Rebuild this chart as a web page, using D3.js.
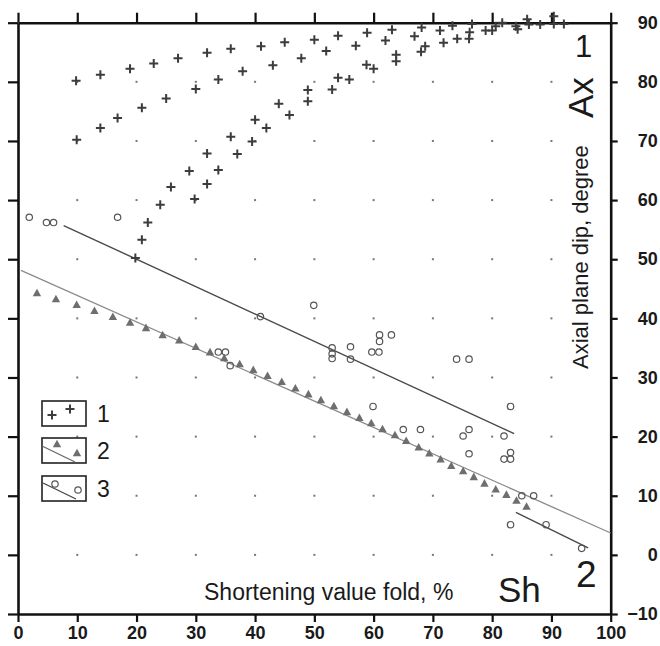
<!DOCTYPE html>
<html>
<head>
<meta charset="utf-8">
<script src="https://cdn.jsdelivr.net/npm/d3@7"></script>
<style>
  body { margin: 0; background: #fff; }
  text { font-family: "Liberation Sans", Arial, sans-serif; fill: #1a1a1a; }
</style>
</head>
<body>
<div id="chart"></div>
<script>
// series 1: crosses (x = shortening %, y = axial plane dip)
const crossX = [9.8,13.9,18.9,22.9,27.0,31.9,35.9,41.0,45.0,50.0,54.0,58.9,63.1,
  9.9,13.9,16.8,20.9,25.0,30.0,33.8,37.9,43.0,47.8,52.0,57.0,62.0,
  19.8,20.9,21.9,24.0,25.8,28.9,31.9,35.9,40.0,44.0,48.9,54.0,58.8,63.8,
  29.8,31.9,33.8,37.0,39.5,41.9,45.8,48.9,53.0,55.9,60.0,63.8,
  68.1,66.9,68.7,68.0,73.3,71.2,71.8,74.1,76.1,76.6,76.2,78.9,80.0,80.6,81.7,
  84.0,84.3,85.9,86.2,88.1,90.4,90.4,92.1]
const crossY = [80.2,81.2,82.2,83.1,84.0,84.9,85.6,86.0,86.7,87.1,87.8,88.3,88.8,
  70.2,72.2,73.9,75.6,77.2,78.8,80.4,81.8,82.8,84.0,85.2,86.1,87.0,
  50.2,53.3,56.2,59.2,62.2,64.9,67.9,70.7,73.6,76.3,78.6,80.7,82.9,84.6,
  60.2,62.7,65.1,67.8,69.9,72.2,74.4,76.7,78.7,80.4,82.2,83.5,
  89.2,87.7,86.0,85.1,89.5,88.7,86.6,87.3,87.3,89.8,88.4,88.7,88.7,89.4,90.0,
  89.4,88.9,90.6,89.7,89.7,91.1,89.8,89.8]

// series 2: triangles
const triX = [3.2,6.4,9.9,12.9,16.0,18.9,21.6,24.4,27.2,30.0,32.4,34.8,37.4,39.7,42.1,44.5,46.8,49.0,51.1,
  53.3,55.5,57.6,59.6,61.5,63.6,65.5,67.6,69.4,71.3,73.1,75.1,76.9,78.7,80.6,82.4,84.1,85.8]
const triY = [44.3,43.3,42.3,41.3,40.3,39.3,38.4,37.2,36.3,35.2,34.3,33.3,32.3,31.3,30.3,29.3,28.2,27.2,26.2,
  25.2,24.2,23.2,22.3,21.3,20.3,19.3,18.2,17.2,16.2,15.1,14.2,13.2,12.1,11.1,10.2,9.2,8.2]

// series 3: circles
const circX = [1.9,4.8,6.0,16.8,40.9,49.9,33.8,35.0,35.8,53.0,53.0,53.0,56.1,56.1,59.7,60.9,61.0,61.0,63.0,
  74.0,76.1,59.9,65.0,67.9,75.1,76.1,76.1,82.0,83.1,83.1,82.0,83.1,85.0,87.0,83.1,89.1,95.1]
const circY = [57.1,56.2,56.2,57.1,40.3,42.2,34.3,34.3,32.0,35.0,34.0,33.2,35.2,33.1,34.3,34.3,37.2,36.1,37.2,
  33.1,33.1,25.1,21.2,21.2,20.1,21.2,17.1,20.1,25.1,17.3,16.2,16.2,10.0,10.0,5.1,5.1,1.1]

// trend lines [x0, y0, x1, y1]
const lineTri = [0.5, 48.1, 100, 3.7]
const lineCirc = [7.7, 55.7, 83.7, 20.5]
const lineCircShort = [84.0, 7.2, 96.2, 1.2]

const xTicks = [0,10,20,30,40,50,60,70,80,90,100]
const yTicks = [-10,0,10,20,30,40,50,60,70,80,90]
const legendLabels = ["1","2","3"]

const width = 660, height = 646

const svg = d3.select("#chart").append("svg")
  .attr("width", width)
  .attr("height", height)

const x = d3.scaleLinear().domain([0, 100]).range([18, 610.7])
const y = d3.scaleLinear().domain([-10, 90]).range([614, 22.7])

// grid dots
const dots = []
xTicks.slice(1, -1).forEach(a => yTicks.slice(1, -1).forEach(b => dots.push([a, b])))
svg.append("g").selectAll("rect")
  .data(dots)
  .join("rect")
  .attr("x", d => x(d[0]) - 1)
  .attr("y", d => y(d[1]) - 1)
  .attr("width", 2).attr("height", 2)
  .attr("fill", "#777")

// axes
const axStyle = g => {
  g.select(".domain").attr("stroke", "#111").attr("stroke-width", 2.6)
  g.selectAll(".tick line").attr("stroke", "#111").attr("stroke-width", 2.2)
}
svg.append("g").attr("transform", `translate(0,${y(-10)})`)
  .call(d3.axisBottom(x).tickValues(xTicks).tickSize(8).tickPadding(4).tickSizeOuter(0))
  .call(axStyle)
  .call(g => g.selectAll("text").attr("font-size", 18).attr("font-weight", "bold")
    .attr("font-family", "Liberation Sans, Arial").attr("fill", "#1a1a1a"))
svg.append("g").attr("transform", `translate(0,${y(90)})`)
  .call(d3.axisTop(x).tickValues(xTicks).tickSize(10).tickFormat("").tickSizeOuter(0))
  .call(axStyle)
svg.append("g").attr("transform", `translate(${x(0)},0)`)
  .call(d3.axisLeft(y).tickValues(yTicks).tickSize(10).tickFormat("").tickSizeOuter(0))
  .call(axStyle)
svg.append("g").attr("transform", `translate(${x(100)},0)`)
  .call(d3.axisRight(y).tickValues(yTicks).tickSize(7).tickSizeOuter(0).tickFormat(d => d < 0 ? "\u2212" + Math.abs(d) : d))
  .call(axStyle)
  .call(g => g.selectAll("text").attr("font-size", 18).attr("font-weight", "bold")
    .attr("font-family", "Liberation Sans, Arial").attr("fill", "#1a1a1a")
    .attr("text-anchor", "end").attr("x", 47))

// trend lines
const plotLine = (l, color, w) => svg.append("line")
  .attr("x1", x(l[0])).attr("y1", y(l[1]))
  .attr("x2", x(l[2])).attr("y2", y(l[3]))
  .attr("stroke", color).attr("stroke-width", w)
plotLine(lineTri, "#8a8a8a", 1.3)
plotLine(lineCirc, "#4a4a4a", 1.4)
plotLine(lineCircShort, "#4a4a4a", 1.4)

// symbol helpers
const crossPath = (cx, cy, s) => `M${cx - s},${cy}H${cx + s}M${cx},${cy - s}V${cy + s}`
const triPath = (cx, cy, s) => `M${cx},${cy - s}L${cx + s},${cy + s * 0.8}L${cx - s},${cy + s * 0.8}Z`

svg.append("g").selectAll("path")
  .data(triX.map((v, i) => [v, triY[i]]))
  .join("path")
  .attr("d", d => triPath(x(d[0]), y(d[1]), 4.2))
  .attr("fill", "#6e6e6e")

svg.append("g").selectAll("circle")
  .data(circX.map((v, i) => [v, circY[i]]))
  .join("circle")
  .attr("cx", d => x(d[0])).attr("cy", d => y(d[1]))
  .attr("r", 3.2)
  .attr("fill", "none").attr("stroke", "#555").attr("stroke-width", 1.2)

svg.append("g").selectAll("path")
  .data(crossX.map((v, i) => [v, crossY[i]]))
  .join("path")
  .attr("d", d => crossPath(x(d[0]), y(d[1]), 4.5))
  .attr("stroke", "#3c3c3c").attr("stroke-width", 2)

// legend
const legTop = [401, 438, 476]
const leg = svg.append("g")
legTop.forEach((t, i) => {
  leg.append("rect").attr("x", 42).attr("y", t).attr("width", 44).attr("height", 25)
    .attr("fill", "white").attr("stroke", "#222").attr("stroke-width", 1.6)
  leg.append("text").attr("x", 97).attr("y", t + 21).attr("font-size", 23).text(legendLabels[i])
})
leg.append("path").attr("d", crossPath(52, 415, 4.5) + crossPath(70, 409, 4.5))
  .attr("stroke", "#3c3c3c").attr("stroke-width", 2)
leg.append("line").attr("x1", 42).attr("y1", 446).attr("x2", 75).attr("y2", 462)
  .attr("stroke", "#666").attr("stroke-width", 1.2)
leg.append("path").attr("d", triPath(57, 444, 4.2) + triPath(77, 453, 4.2)).attr("fill", "#6e6e6e")
leg.append("line").attr("x1", 43).attr("y1", 483).attr("x2", 76).attr("y2", 499)
  .attr("stroke", "#444").attr("stroke-width", 1.2)
leg.selectAll("circle.l").data([[55, 484], [78, 490]]).join("circle")
  .attr("cx", d => d[0]).attr("cy", d => d[1]).attr("r", 3.2)
  .attr("fill", "white").attr("stroke", "#555").attr("stroke-width", 1.2)

// labels
svg.append("text").attr("x", 204).attr("y", 600).attr("font-size", 23)
  .text("Shortening value fold, %")
svg.append("text").attr("x", 498).attr("y", 602).attr("font-size", 35).text("Sh")
svg.append("text").attr("x", 576).attr("y", 587).attr("font-size", 37).text("2")
svg.append("text").attr("x", 575).attr("y", 57).attr("font-size", 31).text("1")
svg.append("text").attr("transform", "translate(593,118) rotate(-90)")
  .attr("font-size", 35).text("Ax")
svg.append("text").attr("transform", "translate(588,369) rotate(-90)")
  .attr("font-size", 22).text("Axial plane dip, degree")
</script>
</body>
</html>
